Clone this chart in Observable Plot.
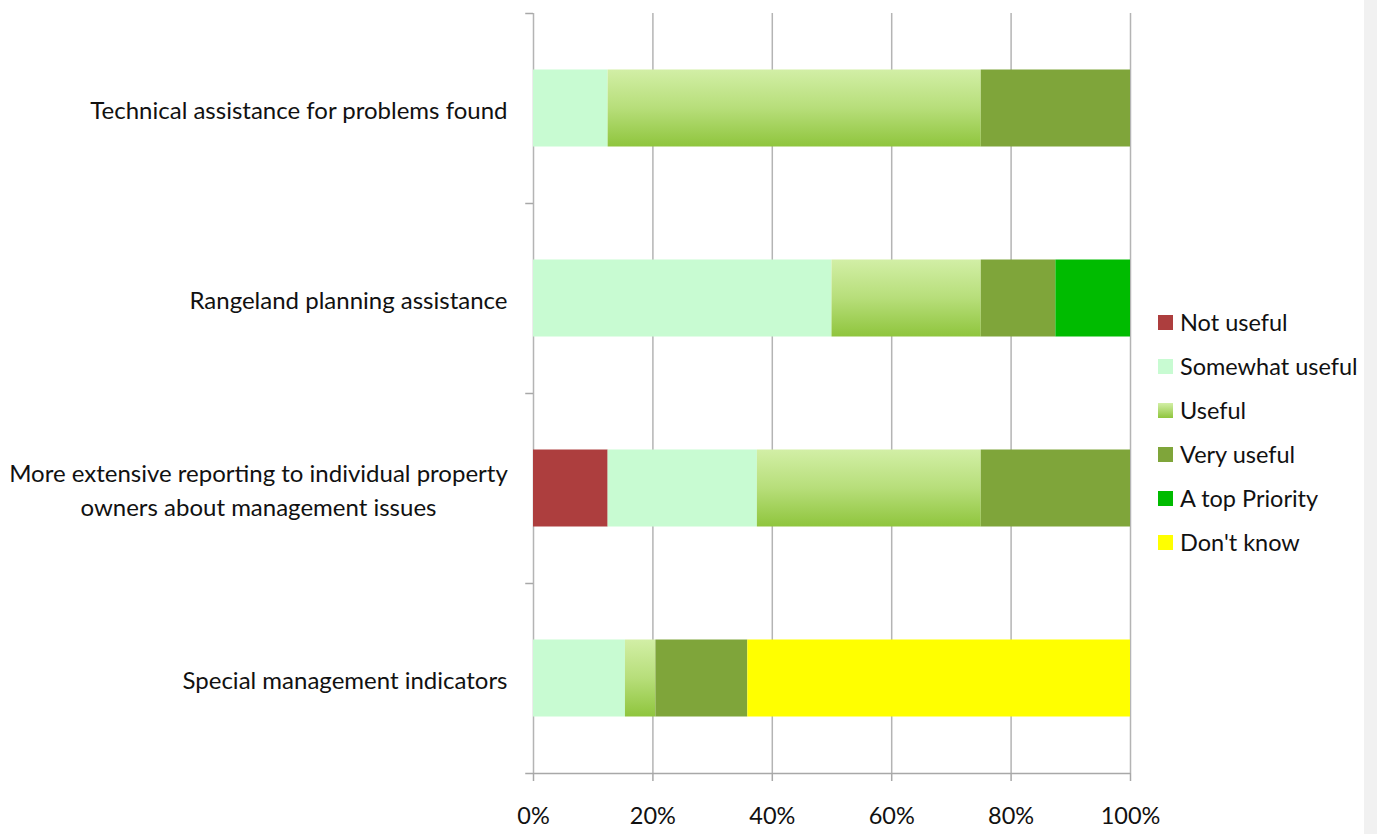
<!DOCTYPE html>
<html>
<head>
<meta charset="utf-8">
<script src="https://cdn.jsdelivr.net/npm/d3@7"></script>
<script src="https://cdn.jsdelivr.net/npm/@observablehq/plot@0.6"></script>
<style>
  html, body { margin: 0; padding: 0; background: #fff; }
  body { width: 1377px; height: 834px; position: relative; overflow: hidden; font-family: Lato, "Open Sans", sans-serif; color: #111; }
  #chart { position: absolute; left: 0; top: 0; }
  #legend { position: absolute; left: 1158px; top: 300px; }
  .row { display: flex; align-items: center; height: 44px; font-size: 23.5px; white-space: nowrap; }
  .sw { width: 15px; height: 15px; margin-right: 7px; flex: none; }
  #edge { position: absolute; left: 1364px; top: 0; width: 13px; height: 834px; background: #f1f1f1; }
</style>
</head>
<body>
<div id="chart"></div>
<div id="legend"></div>
<div id="edge"></div>
<script>
// ---- data ----
const categories = [
  "Technical assistance for problems found",
  "Rangeland planning assistance",
  "More extensive reporting to individual property owners about management issues",
  "Special management indicators"
];
const categoryLabels = [
  "Technical assistance for problems found",
  "Rangeland planning assistance",
  "More extensive reporting to individual property\nowners about management issues",
  "Special management indicators"
];
const levels = ["Not useful", "Somewhat useful", "Useful", "Very useful", "A top Priority", "Don't know"];
const notUseful   = [0,    0,    12.5, 0];
const somewhat    = [12.5, 50,   25,   15.4];
const useful      = [62.5, 25,   37.5, 5.1];
const veryUseful  = [25,   12.5, 25,   15.4];
const topPriority = [0,    12.5, 0,    0];
const dontKnow    = [0,    0,    0,    64.1];
const xTicks = [0, 20, 40, 60, 80, 100];
const levelColors = ["#ad3e3e", "#c8fbd2", "url(#usefulGrad)", "#7fa53a", "#00bb00", "#ffff00"];

// ---- table ----
const series = [notUseful, somewhat, useful, veryUseful, topPriority, dontKnow];
const rows = [];
categories.forEach((c, i) => {
  levels.forEach((lv, j) => {
    rows.push({category: c, level: lv, value: series[j][i]});
  });
});
const labelOf = new Map(categories.map((c, i) => [c, categoryLabels[i]]));

const W = 1377, H = 834;
const band = (773 - 13) / categories.length;

const plot = Plot.plot({
  width: W,
  height: H,
  marginLeft: 533,
  marginRight: 247,
  marginTop: 13,
  marginBottom: 61,
  style: {fontFamily: "Lato, 'Open Sans', sans-serif", color: "#111", background: "transparent"},
  x: {domain: [0, 100]},
  y: {domain: categories, padding: 0},
  color: {domain: levels, range: levelColors},
  marks: [
    // gridlines (0% acts as the y axis line)
    Plot.ruleX(xTicks, {stroke: "#b4b4b4", strokeWidth: 1.5}),
    // bars
    Plot.barX(rows, {x: "value", y: "category", fill: "level", insetTop: 56.5, insetBottom: 56.5, order: levels}),
    // y-axis tick marks at band boundaries
    Plot.ruleY(categories, {x1: -1.3, x2: 0, dy: -band / 2, stroke: "#a8a8a8", strokeWidth: 1.5}),
    // bottom axis line
    Plot.ruleY([categories[categories.length - 1]], {x1: -1.3, x2: 100, dy: band / 2, stroke: "#a8a8a8", strokeWidth: 1.5}),
    Plot.axisX({ticks: xTicks, tickFormat: d => d + "%", tickSize: 8, tickPadding: 26, fontSize: 23.5, stroke: "#a8a8a8", strokeWidth: 1.5, label: null}),
    Plot.axisY({tickSize: 0, tickPadding: 26, fontSize: 24, lineHeight: 1.42, tickFormat: d => labelOf.get(d), label: null})
  ]
});
document.getElementById("chart").appendChild(plot);

// gradient for the "Useful" fill
const ns = "http://www.w3.org/2000/svg";
const defs = document.createElementNS(ns, "defs");
defs.innerHTML = '<linearGradient id="usefulGrad" x1="0" y1="0" x2="0" y2="1">' +
  '<stop offset="0" stop-color="#d2efa6"/><stop offset="0.5" stop-color="#b7de7a"/><stop offset="1" stop-color="#8fc53d"/></linearGradient>';
plot.insertBefore(defs, plot.firstChild);

// center multi-line category labels within their own box (right-aligned box)
plot.querySelectorAll("text").forEach(t => {
  const spans = t.querySelectorAll("tspan");
  if (spans.length > 1 && t.getAttribute("text-anchor") !== "middle") {
    const bb = t.getBBox();
    t.setAttribute("text-anchor", "middle");
    spans.forEach(s => s.setAttribute("x", bb.x + bb.width / 2));
  }
});

// legend
const legend = document.getElementById("legend");
levels.forEach((lv, i) => {
  const row = document.createElement("div");
  row.className = "row";
  const sw = document.createElement("div");
  sw.className = "sw";
  sw.style.background = i === 2 ? "linear-gradient(#d2efa6, #8fc53d)" : levelColors[i];
  const tx = document.createElement("span");
  tx.textContent = lv;
  row.appendChild(sw);
  row.appendChild(tx);
  legend.appendChild(row);
});
</script>
</body>
</html>
